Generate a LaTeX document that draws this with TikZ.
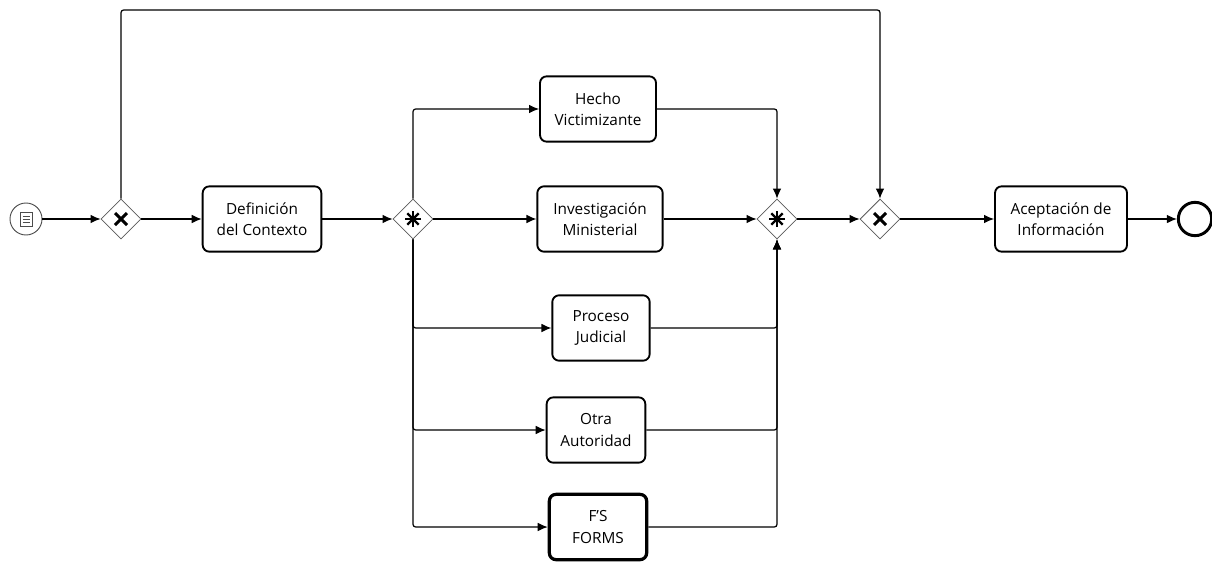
\documentclass[tikz,border=0pt]{standalone}
\usepackage{fontspec}
\setmainfont{Open Sans}
\usepackage{tikz}
\usetikzlibrary{arrows.meta,calc,shapes.geometric}

\tikzset{
  task/.style={draw,rounded corners=5pt,line width=1.4pt,minimum height=49pt,
    align=center,inner sep=2pt,font=\fontsize{11.5}{16}\selectfont},
  gate/.style={draw=black!65,diamond,aspect=1,minimum size=30pt,inner sep=0pt,line width=0.6pt},
  flow/.style={->,line width=0.9pt,rounded corners=2pt},
}

\begin{document}
\begin{tikzpicture}[x=0.75pt,y=-0.75pt,>={Latex[length=7.5pt,width=6.5pt]}]
  \useasboundingbox (0,0) rectangle (1212,564);

  \node[circle,draw=black!70,line width=0.7pt,minimum size=24pt,inner sep=0pt] (start) at (26,219) {};
  \node[gate] (xsplit) at (121,219) {};
  \node[task,minimum width=89pt] (contexto) at (262,219) {Definición\\del Contexto};
  \node[gate] (psplit) at (413,219) {};

  \node[task,minimum width=87pt] (hecho) at (598,109) {Hecho\\Victimizante};
  \node[task,minimum width=94pt] (invest) at (600,219) {Investigación\\Ministerial};
  \node[task,minimum width=73pt] (proceso) at (601,328) {Proceso\\Judicial};
  \node[task,minimum width=74pt] (otra) at (596,430) {Otra\\Autoridad};
  \node[task,minimum width=73pt,line width=2.4pt] (forms) at (598,527) {F'S\\FORMS};

  \node[gate] (pjoin) at (777,219) {};
  \node[gate] (xjoin) at (880,219) {};
  \node[task,minimum width=99pt] (acepta) at (1061,219) {Aceptación de\\Información};
  \node[circle,draw,line width=2.2pt,minimum size=25pt,inner sep=0pt] (fin) at (1195,219) {};

  % icono del evento de inicio
  \draw[black!70,line width=0.5pt] ($(start)+(-6,-7)$) rectangle ($(start)+(6,7)$);
  \foreach \dy in {-3,0,3}
    \draw[black!70,line width=0.5pt] ($(start)+(-3.5,\dy)$) -- ($(start)+(3.5,\dy)$);

  % marcas de las compuertas
  \foreach \g in {xsplit,xjoin}{
    \draw[line width=2.2pt] ($(\g)+(-6,-6)$) -- ($(\g)+(6,6)$);
    \draw[line width=2.2pt] ($(\g)+(-6,6)$) -- ($(\g)+(6,-6)$);
  }
  \foreach \g in {psplit,pjoin}
    \foreach \a in {0,45,90,135}
      \draw[line width=1.8pt] ($(\g)+(\a:8)$) -- ($(\g)+(\a+180:8)$);

  \coordinate (arriba) at (500,10);

  \draw[flow] (start) -- (xsplit);
  \draw[flow] (xsplit) -- (contexto);
  \draw[flow] (contexto) -- (psplit);
  \draw[flow] (xsplit.north) |- (arriba) -| (xjoin.north);

  \draw[flow] (psplit.north) |- (hecho.west);
  \draw[flow] (psplit) -- (invest);
  \foreach \t in {proceso,otra,forms}
    \draw[flow] (psplit.south) |- (\t.west);

  \draw[flow] (hecho.east) -| (pjoin.north);
  \draw[flow] (invest) -- (pjoin);
  \foreach \t in {proceso,otra,forms}
    \draw[flow] (\t.east) -| (pjoin.south);

  \draw[flow] (pjoin) -- (xjoin);
  \draw[flow] (xjoin) -- (acepta);
  \draw[flow] (acepta) -- (fin);
\end{tikzpicture}
\end{document}
